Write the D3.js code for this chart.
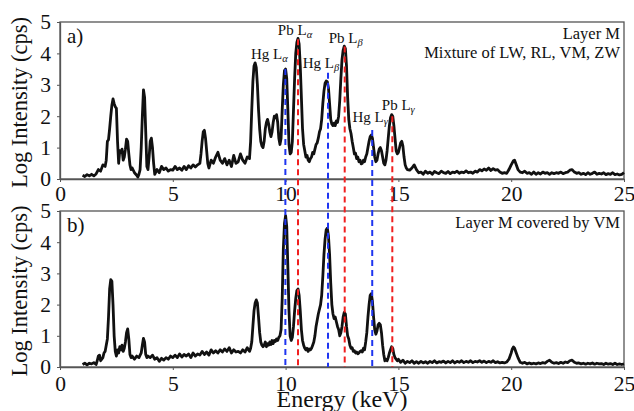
<!DOCTYPE html>
<html>
<head>
<meta charset="utf-8">
<script src="https://cdn.jsdelivr.net/npm/d3@7"></script>
<style>
  body { margin: 0; background: #fff; }
  svg text { font-family: "Liberation Serif", "Times New Roman", serif; fill: #111; }
</style>
</head>
<body>
<div id="chart"></div>
<script>
// spectra, [energy keV, log intensity]
var spectrumA = [
  [1.0,0.12],[1.1,0.08],[1.2,0.14],[1.3,0.1],[1.4,0.15],[1.5,0.1],[1.6,0.16],[1.7,0.3],[1.8,0.25],[1.9,0.45],
  [2.0,0.4],[2.05,0.6],[2.1,1.2],[2.15,1.25],[2.2,1.6],[2.25,2.0],[2.3,2.35],[2.35,2.55],[2.4,2.4],[2.45,2.3],
  [2.5,2.25],[2.55,1.2],[2.6,0.5],[2.65,0.9],[2.7,0.85],[2.75,0.95],[2.8,0.6],[2.85,0.7],[2.9,0.95],[2.95,1.27],
  [3.0,1.2],[3.05,0.8],[3.1,0.45],[3.15,0.3],[3.2,0.35],[3.3,0.2],[3.4,0.12],[3.45,0.06],[3.5,0.15],[3.55,0.3],
  [3.6,1.0],[3.65,2.0],[3.7,2.84],[3.75,2.6],[3.8,1.5],[3.85,0.4],[3.9,0.3],[3.95,0.7],[4.0,1.2],[4.05,1.3],
  [4.1,1.0],[4.15,0.5],[4.2,0.15],[4.3,0.3],[4.4,0.2],[4.5,0.4],[4.6,0.3],[4.7,0.35],[4.8,0.25],[4.9,0.3],
  [5.0,0.28],[5.1,0.4],[5.2,0.3],[5.3,0.35],[5.4,0.28],[5.5,0.4],[5.6,0.3],[5.7,0.42],[5.8,0.35],[5.9,0.45],
  [6.0,0.38],[6.1,0.45],[6.2,0.5],[6.25,0.8],[6.3,1.2],[6.35,1.5],[6.4,1.55],[6.45,1.3],[6.5,0.9],[6.55,0.5],
  [6.6,0.35],[6.7,0.6],[6.8,0.5],[6.9,0.7],[7.0,0.85],[7.1,0.6],[7.2,0.5],[7.3,0.65],[7.4,0.45],[7.5,0.6],
  [7.6,0.4],[7.7,0.75],[7.8,0.5],[7.9,0.55],[8.0,0.8],[8.1,0.6],[8.2,0.5],[8.3,0.7],[8.4,0.65],[8.45,1.2],
  [8.5,2.2],[8.55,3.1],[8.6,3.6],[8.65,3.7],[8.7,3.55],[8.75,3.0],[8.8,2.2],[8.85,1.6],[8.9,1.2],[8.95,1.05],
  [9.0,1.0],[9.05,1.2],[9.1,1.6],[9.15,1.8],[9.2,1.9],[9.25,1.75],[9.3,1.5],[9.35,1.35],[9.4,1.5],[9.45,1.8],
  [9.5,2.0],[9.55,1.95],[9.6,2.05],[9.65,1.8],[9.7,1.3],[9.75,1.1],[9.8,1.3],[9.85,2.2],[9.9,3.0],[9.95,3.45],
  [10.0,3.5],[10.05,3.2],[10.1,2.2],[10.15,1.1],[10.2,0.8],[10.25,0.85],[10.3,1.2],[10.35,2.2],[10.4,3.2],[10.45,4.0],
  [10.5,4.35],[10.55,4.48],[10.6,4.3],[10.65,3.6],[10.7,2.6],[10.75,1.6],[10.8,1.1],[10.85,0.9],[10.9,0.7],[10.95,0.75],
  [11.0,0.6],[11.05,0.55],[11.1,0.65],[11.15,0.7],[11.2,0.85],[11.25,0.8],[11.3,0.95],[11.35,1.1],[11.4,1.15],[11.45,1.3],
  [11.5,1.5],[11.55,1.6],[11.6,1.9],[11.65,2.4],[11.7,2.8],[11.75,3.05],[11.8,3.12],[11.85,3.1],[11.9,2.9],[11.95,2.4],
  [12.0,1.9],[12.05,1.75],[12.1,1.7],[12.15,1.78],[12.2,1.7],[12.25,1.85],[12.3,1.8],[12.35,2.0],[12.4,2.5],[12.45,3.2],
  [12.5,3.8],[12.55,4.1],[12.6,4.23],[12.65,4.15],[12.7,3.6],[12.75,2.6],[12.8,1.9],[12.85,1.6],[12.9,1.45],[12.95,1.2],
  [13.0,1.0],[13.05,0.8],[13.1,0.82],[13.15,0.65],[13.2,0.7],[13.25,0.55],[13.3,0.6],[13.35,0.48],[13.4,0.5],[13.45,0.6],
  [13.5,0.55],[13.55,0.7],[13.6,0.8],[13.65,1.0],[13.7,1.2],[13.75,1.35],[13.8,1.4],[13.85,1.3],[13.9,1.0],[13.95,0.7],
  [14.0,0.55],[14.05,0.6],[14.1,0.8],[14.15,0.95],[14.2,1.0],[14.25,0.9],[14.3,0.7],[14.35,0.5],[14.4,0.45],[14.45,0.6],
  [14.5,0.9],[14.55,1.3],[14.6,1.7],[14.65,1.95],[14.7,2.05],[14.75,2.0],[14.8,1.7],[14.85,1.3],[14.9,0.9],[14.95,0.8],
  [15.0,0.85],[15.05,1.0],[15.1,1.15],[15.15,1.2],[15.2,1.05],[15.25,0.7],[15.3,0.45],[15.35,0.35],[15.4,0.3],[15.5,0.28],
  [15.6,0.35],[15.7,0.45],[15.8,0.3],[15.9,0.2],[16.0,0.22],[16.1,0.15],[16.2,0.25],[16.3,0.18],[16.4,0.22],[16.5,0.15],
  [16.6,0.24],[16.7,0.2],[16.8,0.17],[16.9,0.25],[17.0,0.2],[17.1,0.18],[17.2,0.24],[17.3,0.17],[17.4,0.22],[17.5,0.2],
  [17.6,0.25],[17.7,0.18],[17.8,0.22],[17.9,0.2],[18.0,0.26],[18.1,0.2],[18.2,0.22],[18.3,0.18],[18.4,0.25],[18.5,0.22],
  [18.6,0.3],[18.7,0.26],[18.8,0.32],[18.9,0.28],[19.0,0.35],[19.1,0.27],[19.2,0.33],[19.3,0.28],[19.4,0.3],[19.5,0.22],
  [19.6,0.18],[19.7,0.2],[19.8,0.18],[19.9,0.3],[20.0,0.45],[20.1,0.58],[20.15,0.6],[20.2,0.5],[20.3,0.3],[20.4,0.22],
  [20.5,0.2],[20.6,0.25],[20.7,0.18],[20.8,0.2],[20.9,0.15],[21.0,0.22],[21.1,0.15],[21.2,0.2],[21.3,0.16],[21.4,0.22],
  [21.5,0.18],[21.6,0.2],[21.7,0.15],[21.8,0.2],[21.9,0.17],[22.0,0.2],[22.1,0.18],[22.2,0.22],[22.3,0.17],[22.4,0.2],
  [22.5,0.22],[22.6,0.28],[22.7,0.3],[22.8,0.22],[22.9,0.18],[23.0,0.2],[23.1,0.15],[23.2,0.18],[23.3,0.14],[23.4,0.2],
  [23.5,0.15],[23.6,0.18],[23.7,0.22],[23.8,0.15],[23.9,0.18],[24.0,0.16],[24.1,0.2],[24.2,0.14],[24.3,0.17],[24.4,0.15],
  [24.5,0.2],[24.6,0.14],[24.7,0.16],[24.8,0.13],[24.9,0.15],[25.0,0.2]
];

var spectrumB = [
  [1.0,0.08],[1.1,0.12],[1.2,0.07],[1.3,0.12],[1.4,0.1],[1.5,0.14],[1.6,0.08],[1.65,0.2],[1.7,0.35],[1.75,0.38],
  [1.8,0.2],[1.85,0.25],[1.9,0.3],[1.95,0.45],[2.0,0.5],[2.05,0.7],[2.1,0.9],[2.15,1.6],[2.2,2.5],[2.25,2.8],
  [2.3,2.75],[2.35,2.0],[2.4,1.0],[2.45,0.5],[2.5,0.35],[2.55,0.55],[2.6,0.45],[2.65,0.65],[2.7,0.55],[2.75,0.7],
  [2.8,0.5],[2.85,0.6],[2.9,0.8],[2.95,1.1],[3.0,1.22],[3.05,0.9],[3.1,0.4],[3.15,0.3],[3.2,0.35],[3.3,0.25],
  [3.4,0.35],[3.5,0.3],[3.6,0.45],[3.65,0.7],[3.7,0.92],[3.75,0.8],[3.8,0.4],[3.85,0.3],[3.9,0.35],[4.0,0.3],
  [4.1,0.38],[4.2,0.25],[4.3,0.3],[4.4,0.18],[4.5,0.28],[4.6,0.22],[4.7,0.3],[4.8,0.25],[4.9,0.35],[5.0,0.3],
  [5.1,0.38],[5.2,0.3],[5.3,0.42],[5.4,0.32],[5.5,0.4],[5.6,0.35],[5.7,0.42],[5.8,0.3],[5.9,0.45],[6.0,0.35],
  [6.1,0.42],[6.2,0.38],[6.3,0.5],[6.4,0.4],[6.5,0.48],[6.6,0.38],[6.7,0.55],[6.8,0.45],[6.9,0.52],[7.0,0.45],
  [7.1,0.55],[7.2,0.48],[7.3,0.58],[7.4,0.5],[7.5,0.62],[7.6,0.45],[7.7,0.55],[7.8,0.48],[7.9,0.5],[8.0,0.45],
  [8.1,0.55],[8.2,0.48],[8.3,0.62],[8.4,0.5],[8.45,0.6],[8.5,0.8],[8.55,1.3],[8.6,1.8],[8.65,2.05],[8.7,2.15],
  [8.75,2.05],[8.8,1.6],[8.85,1.1],[8.9,0.8],[8.95,0.7],[9.0,0.65],[9.05,0.7],[9.1,0.8],[9.15,0.65],[9.2,0.75],
  [9.25,0.7],[9.3,0.8],[9.35,0.72],[9.4,0.85],[9.45,0.75],[9.5,0.85],[9.55,0.82],[9.6,0.9],[9.65,0.85],[9.7,0.95],
  [9.75,1.0],[9.8,1.2],[9.85,2.2],[9.9,3.8],[9.95,4.6],[10.0,4.85],[10.05,4.5],[10.1,3.2],[10.15,1.8],[10.2,1.0],
  [10.25,0.85],[10.3,0.95],[10.35,1.3],[10.4,1.8],[10.45,2.2],[10.5,2.45],[10.55,2.5],[10.6,2.3],[10.65,1.8],[10.7,1.2],
  [10.75,0.85],[10.8,0.7],[10.85,0.6],[10.9,0.55],[10.95,0.6],[11.0,0.5],[11.05,0.58],[11.1,0.55],[11.15,0.6],[11.2,0.7],
  [11.25,0.8],[11.3,1.0],[11.35,1.3],[11.4,1.5],[11.45,1.7],[11.5,1.85],[11.55,2.0],[11.6,2.3],[11.65,2.9],[11.7,3.6],
  [11.75,4.1],[11.8,4.4],[11.85,4.45],[11.9,4.2],[11.95,3.6],[12.0,2.7],[12.05,2.0],[12.1,1.7],[12.15,1.55],[12.2,1.6],
  [12.25,1.45],[12.3,1.3],[12.35,1.2],[12.4,1.0],[12.45,1.1],[12.5,1.3],[12.55,1.6],[12.6,1.75],[12.65,1.7],[12.7,1.3],
  [12.75,1.0],[12.8,0.9],[12.85,0.7],[12.9,0.6],[12.95,0.62],[13.0,0.5],[13.05,0.52],[13.1,0.45],[13.15,0.48],[13.2,0.42],
  [13.25,0.45],[13.3,0.5],[13.35,0.52],[13.4,0.48],[13.45,0.6],[13.5,0.55],[13.55,0.8],[13.6,1.1],[13.65,1.6],[13.7,2.0],
  [13.75,2.3],[13.8,2.35],[13.85,2.1],[13.9,1.6],[13.95,1.2],[14.0,1.05],[14.05,1.15],[14.1,1.35],[14.15,1.4],[14.2,1.35],
  [14.25,1.1],[14.3,0.7],[14.35,0.4],[14.4,0.2],[14.45,0.25],[14.5,0.2],[14.55,0.3],[14.6,0.45],[14.65,0.55],[14.7,0.65],
  [14.75,0.6],[14.8,0.4],[14.85,0.3],[14.9,0.25],[14.95,0.2],[15.0,0.25],[15.1,0.15],[15.2,0.22],[15.3,0.12],[15.4,0.18],
  [15.5,0.14],[15.6,0.2],[15.7,0.12],[15.8,0.17],[15.9,0.12],[16.0,0.18],[16.1,0.13],[16.2,0.17],[16.3,0.12],[16.4,0.18],
  [16.5,0.14],[16.6,0.2],[16.7,0.13],[16.8,0.17],[16.9,0.15],[17.0,0.19],[17.1,0.13],[17.2,0.18],[17.3,0.14],[17.4,0.2],
  [17.5,0.13],[17.6,0.18],[17.7,0.15],[17.8,0.2],[17.9,0.14],[18.0,0.18],[18.1,0.15],[18.2,0.2],[18.3,0.14],[18.4,0.18],
  [18.5,0.16],[18.6,0.2],[18.7,0.15],[18.8,0.19],[18.9,0.14],[19.0,0.18],[19.1,0.15],[19.2,0.2],[19.3,0.14],[19.4,0.17],
  [19.5,0.13],[19.6,0.15],[19.7,0.13],[19.8,0.16],[19.9,0.25],[20.0,0.45],[20.05,0.58],[20.1,0.64],[20.15,0.6],[20.2,0.5],
  [20.3,0.3],[20.4,0.15],[20.5,0.12],[20.6,0.15],[20.7,0.1],[20.8,0.13],[20.9,0.1],[21.0,0.12],[21.1,0.1],[21.2,0.13],
  [21.3,0.11],[21.4,0.14],[21.5,0.12],[21.6,0.18],[21.7,0.22],[21.8,0.15],[21.9,0.12],[22.0,0.14],[22.1,0.11],[22.2,0.15],
  [22.3,0.12],[22.4,0.16],[22.5,0.14],[22.6,0.2],[22.7,0.22],[22.8,0.15],[22.9,0.12],[23.0,0.13],[23.1,0.1],[23.2,0.12],
  [23.3,0.09],[23.4,0.12],[23.5,0.1],[23.6,0.13],[23.7,0.09],[23.8,0.12],[23.9,0.1],[24.0,0.11],[24.1,0.08],[24.2,0.12],
  [24.3,0.09],[24.4,0.11],[24.5,0.08],[24.6,0.12],[24.7,0.08],[24.8,0.1],[24.9,0.08],[25.0,0.1]
];

// emission lines (keV) and where the marker starts in panel a
var lineElement = ["Hg", "Pb", "Hg", "Pb", "Hg", "Pb"];
var lineSeries  = ["α", "α", "β", "β", "γ", "γ"];
var lineEnergy  = [9.99, 10.55, 11.88, 12.62, 13.84, 14.73];
var lineTop     = [3.5, 4.45, 3.38, 4.22, 1.56, 2.0];

var xTicks = [0, 5, 10, 15, 20, 25];
var yTicks = [0, 1, 2, 3, 4, 5];

var panelTags  = ["a)", "b)"];
var panelNotes = [["Layer M", "Mixture of LW, RL, VM, ZW"], ["Layer M covered by VM"]];

var width = 634, height = 411;

var svg = d3.select("#chart").append("svg")
    .attr("width", width)
    .attr("height", height);

var x = d3.scaleLinear().domain([0, 25]).range([60, 624]);
var yA = d3.scaleLinear().domain([0, 5]).range([179, 22]);
var yB = d3.scaleLinear().domain([0, 5]).range([367, 211]);

var axisColor = "#555";
var fmt = d3.format("d");

function drawPanel(y, data, idx, tickPad) {
  var g = svg.append("g");

  // frame
  g.append("rect")
    .attr("x", x(0)).attr("y", y(5))
    .attr("width", x(25) - x(0)).attr("height", y(0) - y(5))
    .attr("fill", "none").attr("stroke", axisColor).attr("stroke-width", 1.3);

  var xa = g.append("g")
    .attr("transform", "translate(0," + y(0) + ")")
    .call(d3.axisBottom(x).tickValues(xTicks).tickFormat(fmt)
      .tickSize(3).tickSizeOuter(0).tickPadding(tickPad));
  var ya = g.append("g")
    .attr("transform", "translate(" + x(0) + ",0)")
    .call(d3.axisLeft(y).tickValues(yTicks).tickFormat(fmt)
      .tickSize(3).tickSizeOuter(0).tickPadding(6));

  [xa, ya].forEach(function(a) {
    a.select(".domain").attr("stroke", axisColor).attr("stroke-width", 1.3);
    a.selectAll(".tick line").attr("stroke", axisColor);
    a.selectAll("text").attr("font-size", 21.5).attr("fill", "#111")
      .style("font-family", "'Liberation Serif', 'Times New Roman', serif");
  });

  var line = d3.line()
    .x(function(d) { return x(d[0]); })
    .y(function(d) { return y(d[1]); });

  g.append("path")
    .datum(data)
    .attr("fill", "none")
    .attr("stroke", "#111")
    .attr("stroke-width", 2.8)
    .attr("stroke-linejoin", "round")
    .attr("d", line);

  g.append("text")
    .attr("x", x(0) + 7).attr("y", y(5) + 21)
    .attr("font-size", 21)
    .text(panelTags[idx]);

  g.selectAll(".note")
    .data(panelNotes[idx])
    .enter().append("text")
      .attr("class", "note")
      .attr("x", x(25) - 4)
      .attr("y", function(d, i) { return y(5) + 17 + i * 19; })
      .attr("text-anchor", "end")
      .attr("font-size", 16.5)
      .text(function(d) { return d; });

  // y label
  g.append("text")
    .attr("transform", "translate(27," + ((y(0) + y(5)) / 2 + 2) + ") rotate(-90)")
    .attr("text-anchor", "middle")
    .attr("font-size", 22.5)
    .text("Log Intensity (cps)");
}

drawPanel(yA, spectrumA, 0, 4);
drawPanel(yB, spectrumB, 1, 6);

svg.append("text")
  .attr("x", (x(0) + x(25)) / 2)
  .attr("y", 407)
  .attr("text-anchor", "middle")
  .attr("font-size", 24)
  .text("Energy (keV)");

// dashed marker lines, from the peak in a) down through b)
svg.append("g").selectAll("line")
  .data(lineEnergy)
  .enter().append("line")
    .attr("x1", function(d) { return x(d); })
    .attr("x2", function(d) { return x(d); })
    .attr("y1", function(d, i) { return yA(lineTop[i]); })
    .attr("y2", yB(0))
    .attr("stroke", function(d, i) { return lineElement[i] == "Hg" ? "#1f35f0" : "#f02020"; })
    .attr("stroke-width", 2)
    .attr("stroke-dasharray", "6,4");

// label nudges (px), hand placed so they sit like the original
var labelNudge = [[-16, -10], [-3, -4], [-7, -5], [1, -3], [-2, -8], [6, -6]];

var labels = svg.append("g").selectAll("text")
  .data(lineEnergy)
  .enter().append("text")
    .attr("x", function(d, i) { return x(d) + labelNudge[i][0]; })
    .attr("y", function(d, i) { return yA(lineTop[i]) + labelNudge[i][1]; })
    .attr("text-anchor", "middle")
    .attr("font-size", 15);
labels.append("tspan").text(function(d, i) { return lineElement[i] + " L"; });
labels.append("tspan")
  .attr("font-size", 10.5)
  .attr("dy", 3)
  .attr("font-style", "italic")
  .text(function(d, i) { return lineSeries[i]; });
</script>
</body>
</html>
